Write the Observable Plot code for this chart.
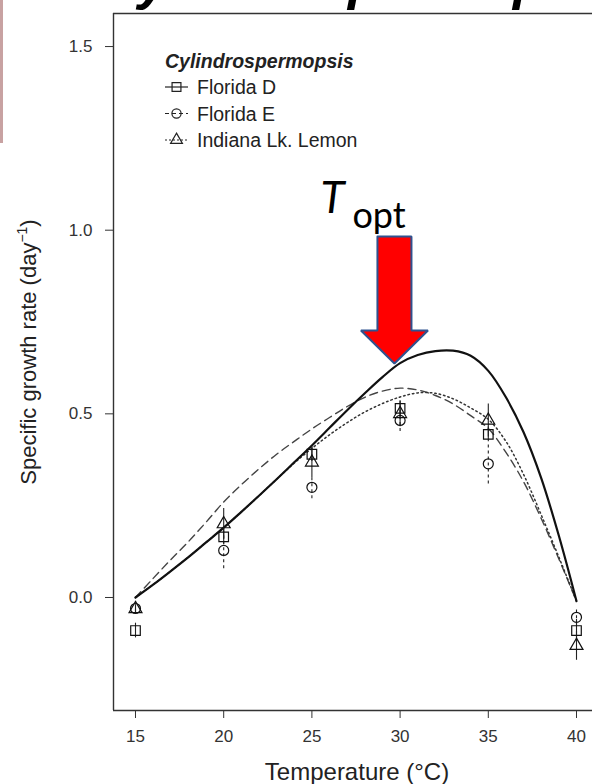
<!DOCTYPE html>
<html><head><meta charset="utf-8">
<script src="https://cdn.jsdelivr.net/npm/d3@7"></script>
<script src="https://cdn.jsdelivr.net/npm/@observablehq/plot@0.6"></script>
<style>
body{margin:0;background:#fff;}
#wrap{position:relative;width:592px;height:784px;overflow:hidden;}
</style></head><body><div id="wrap"></div>
<script>
// ---- data ----
const xDomain = [13.753, 40.907];
const yDomain = [-0.3077, 1.590];
const xTicks = [15, 20, 25, 30, 35, 40];
const yTicks = [0, 0.5, 1.0, 1.5];

const temps = [15, 20, 25, 30, 35, 40];
const floridaD    = [-0.09, 0.165, 0.39, 0.515, 0.444, -0.09];
const floridaDErr = [0.02, 0.02, 0.02, 0.02, 0.02, 0.03];
const floridaE    = [-0.03, 0.128, 0.30, 0.482, 0.364, -0.054];
const floridaEErr = [0.01, 0.05, 0.031, 0.03, 0.055, 0.02];
const indiana     = [-0.031, 0.20, 0.368, 0.50, 0.482, -0.131];
const indianaErr  = [0.01, 0.042, 0.042, 0.035, 0.045, 0.04];

const fitT = [15,16,17,18,19,20,21,22,23,24,25,26,27,28,29,30,31,32,33,34,35,36,37,38,39,40];
const fitD = [0.0,0.035,0.072,0.11,0.15,0.19,0.233,0.277,0.322,0.368,0.414,0.462,0.51,0.556,0.60,0.638,0.66,0.671,0.672,0.658,0.617,0.545,0.45,0.325,0.168,-0.01];
const fitE = [0.0,0.052,0.103,0.152,0.205,0.26,0.307,0.35,0.39,0.425,0.459,0.49,0.52,0.545,0.562,0.57,0.565,0.55,0.527,0.495,0.46,0.395,0.315,0.215,0.105,-0.01];
const fitI = [0.0,0.035,0.072,0.11,0.15,0.19,0.233,0.277,0.322,0.366,0.406,0.443,0.476,0.505,0.528,0.546,0.557,0.556,0.541,0.516,0.485,0.425,0.335,0.225,0.11,-0.01];

const legendTitle = "Cylindrospermopsis";
const seriesNames = ["Florida D", "Florida E", "Indiana Lk. Lemon"];
const xLabel = "Temperature (°C)";
const yLabel = "Specific growth rate (day";
const slideTitle = "Cylindrospermopsis";

// T_opt annotation (data units)
const toptX = 29.68, arrowTipY = 0.637, arrowHeadY = 0.727, arrowTopY = 0.983;
const shaftHalf = 0.964, headHalf = 1.90;
const toptLabelY = 1.048, toptSubY = 1.007;

// ---- build tables ----
const seriesVals = [floridaD, floridaE, indiana];
const seriesErrs = [floridaDErr, floridaEErr, indianaErr];
const pts = [];
seriesVals.forEach((arr, s) => arr.forEach((v, i) => pts.push({t: temps[i], v, e: seriesErrs[s][i], s})));
const fitRows = (arr) => fitT.map((t, i) => ({t, v: arr[i]}));

const arrowPts = [
  {x: toptX - shaftHalf, y: arrowTopY},
  {x: toptX + shaftHalf, y: arrowTopY},
  {x: toptX + shaftHalf, y: arrowHeadY},
  {x: toptX + headHalf, y: arrowHeadY},
  {x: toptX, y: arrowTipY},
  {x: toptX - headHalf, y: arrowHeadY},
  {x: toptX - shaftHalf, y: arrowHeadY},
  {x: toptX - shaftHalf, y: arrowTopY}
];

const symbols = ["square", "circle", "triangle"];
const symR = [5.4, 5, 4.8];
const barDash = [null, "3,3", null];

const errMarks = [0,1,2].map(s => Plot.ruleX(pts.filter(d => d.s === s), {
  x: "t", y1: d => d.v - d.e, y2: d => d.v + d.e, stroke: "#222", strokeWidth: 1.1,
  strokeDasharray: barDash[s] || undefined
}));
const dotMarks = [1,0,2].map(s => Plot.dot(pts.filter(d => d.s === s), {
  x: "t", y: "v", symbol: symbols[s], r: symR[s], stroke: "#111", strokeWidth: 1.2, fill: "none"
}));

const plot = Plot.plot({
  width: 592, height: 784,
  marginTop: 13, marginBottom: 74, marginLeft: 113, marginRight: 0,
  style: {fontFamily: "'Liberation Sans', Arial, sans-serif", fontSize: "17px", color: "#333", background: "white"},
  x: {domain: xDomain, ticks: xTicks, tickSize: 8, tickPadding: 11, label: null, tickFormat: d => String(d)},
  y: {domain: yDomain, ticks: yTicks, tickSize: 8, tickPadding: 13, label: null, tickFormat: d3.format(".1f")},
  marks: [
    Plot.ruleY([yDomain[0], yDomain[1]], {stroke: "#333", strokeWidth: 1.4}),
    Plot.ruleX([xDomain[0]], {stroke: "#333", strokeWidth: 1.4}),
    Plot.line(fitRows(fitE), {x: "t", y: "v", stroke: "#444", strokeWidth: 1.4, strokeDasharray: "8,5", curve: "catmull-rom"}),
    Plot.line(fitRows(fitI), {x: "t", y: "v", stroke: "#333", strokeWidth: 1.5, strokeDasharray: "1.5,3", curve: "catmull-rom"}),
    Plot.line(fitRows(fitD), {x: "t", y: "v", stroke: "#111", strokeWidth: 2.2, curve: "catmull-rom"}),
    ...errMarks,
    ...dotMarks,
    Plot.line(arrowPts, {x: "x", y: "y", fill: "#ff0000", stroke: "#2f528f", strokeWidth: 2, strokeLinejoin: "miter", curve: "linear"}),
    Plot.text([toptX], {x: d => d, y: toptLabelY, text: () => "T", fontStyle: "italic", fontSize: 44, fontFamily: "Lato, 'Open Sans', sans-serif", textAnchor: "start", lineAnchor: "bottom", dx: -74, fill: "#000"}),
    Plot.text([toptX], {x: d => d, y: toptSubY, text: () => "opt", fontSize: 36, fontFamily: "Lato, 'Open Sans', sans-serif", textAnchor: "start", lineAnchor: "bottom", dx: -42, fill: "#000"})
  ]
});

const svg = d3.select(plot);
const ff = "'Liberation Sans', Arial, sans-serif";

// left pink strip and cut-off slide title
svg.append("rect").attr("x", 0).attr("y", 0).attr("width", 3).attr("height", 143).attr("fill", "#c8a2a2");
svg.append("text").attr("x", 99).attr("y", -1.5).attr("text-anchor", "start").attr("font-family", ff).attr("font-weight", "bold")
  .attr("font-style", "italic").attr("font-size", 54).attr("fill", "#000").text(slideTitle);

// legend
const lg = svg.append("g").attr("font-family", ff).attr("fill", "#222").attr("text-anchor", "start");
lg.append("text").attr("x", 165).attr("y", 68).attr("font-size", 19.5).attr("font-weight", "bold")
  .attr("font-style", "italic").text(legendTitle);
const legDash = [null, "4,3", "2,2"];
const d3sym = [d3.symbolSquare, d3.symbolCircle, d3.symbolTriangle];
const legR = [5, 4.6, 4.4];
const rowBase = [94, 120.5, 147];
seriesNames.forEach((name, i) => {
  const cy = rowBase[i] - 7;
  lg.append("line").attr("x1", 165).attr("x2", 188).attr("y1", cy).attr("y2", cy)
    .attr("stroke", "#222").attr("stroke-width", 1.2).attr("stroke-dasharray", legDash[i]);
  lg.append("path").attr("d", d3.symbol(d3sym[i], Math.PI * legR[i] * legR[i])())
    .attr("transform", `translate(176.5,${cy})`).attr("fill", "none").attr("stroke", "#222").attr("stroke-width", 1.2);
  lg.append("text").attr("x", 197).attr("y", rowBase[i]).attr("font-size", 19.5).text(name);
});

// axis labels
svg.append("text").attr("x", 357).attr("y", 780).attr("text-anchor", "middle").attr("font-family", ff)
  .attr("font-size", 24).attr("fill", "#222").text(xLabel);
const yl = svg.append("text").attr("transform", "translate(36,352) rotate(-90)").attr("text-anchor", "middle")
  .attr("font-family", ff).attr("font-size", 22).attr("fill", "#222");
yl.append("tspan").text(yLabel);
yl.append("tspan").attr("font-size", 14).attr("dy", -9).text("−1");
yl.append("tspan").attr("dy", 9).text(")");

document.getElementById("wrap").appendChild(plot);
</script>
</body></html>
